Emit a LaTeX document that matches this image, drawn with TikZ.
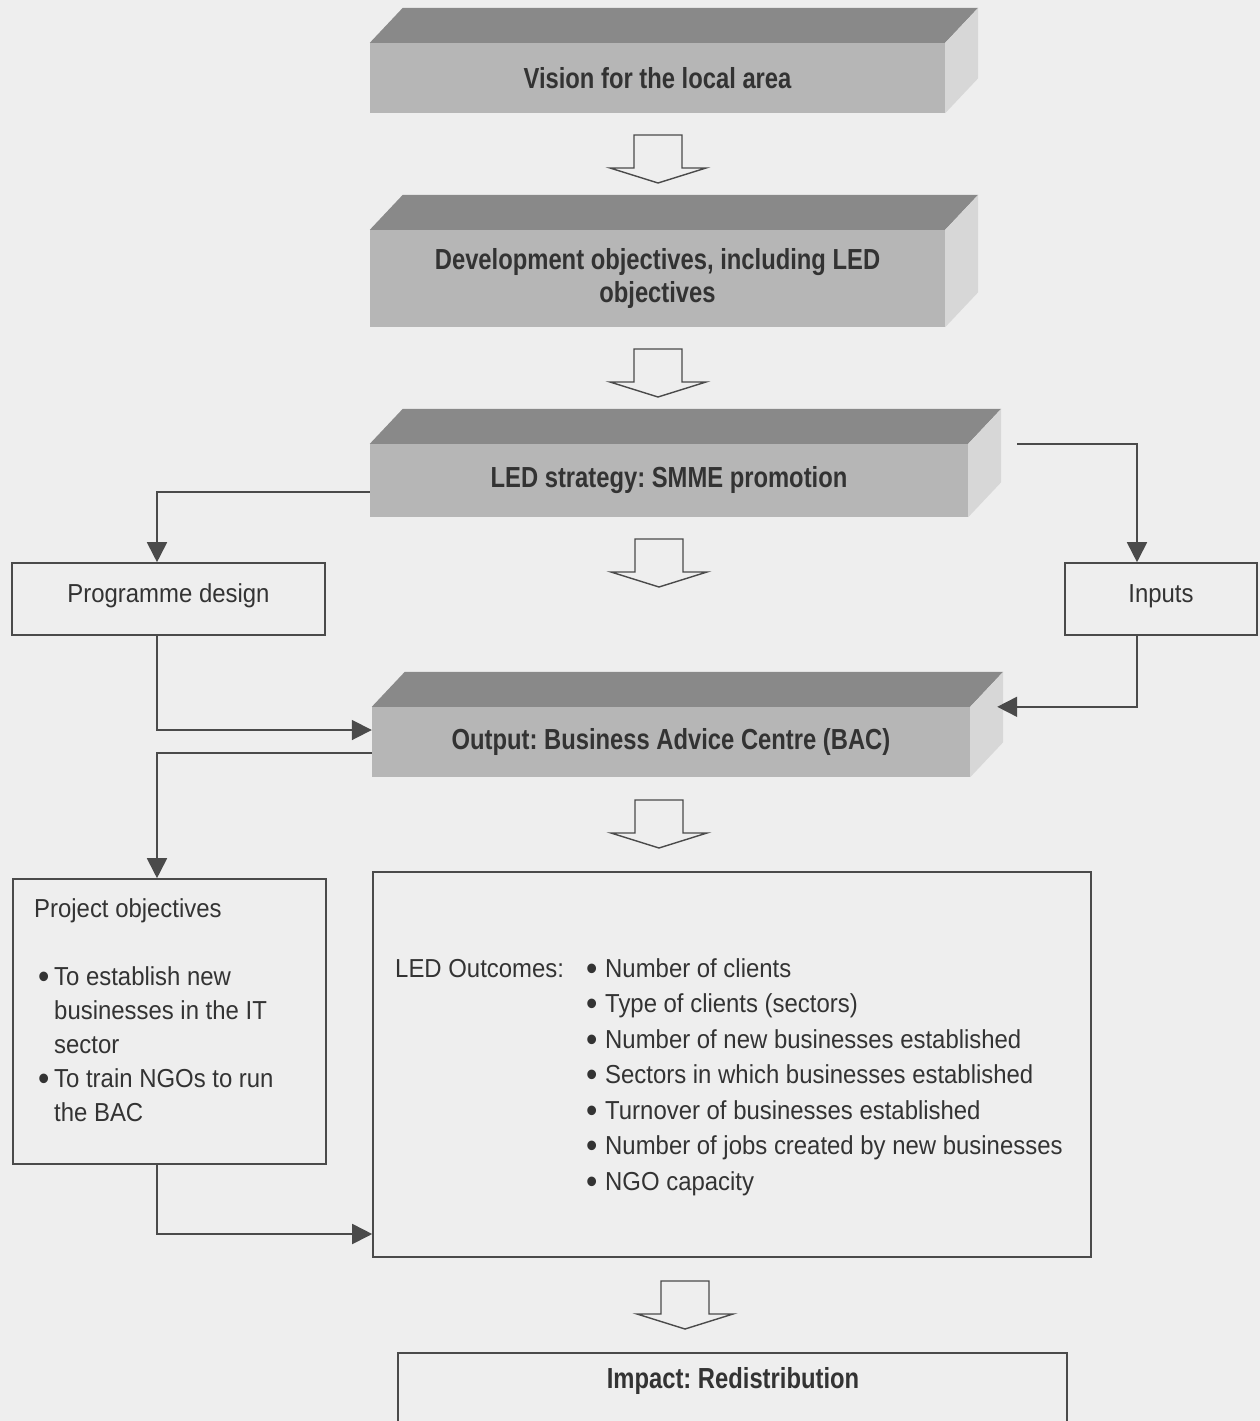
\documentclass[tikz,border=0pt]{standalone}
\usepackage{fontspec}
\setmainfont{Liberation Sans}[FakeStretch=0.92]
\newfontfamily\slabfont{Liberation Sans}[FakeStretch=0.82]
\usetikzlibrary{arrows.meta,calc}

\definecolor{bg}{HTML}{EEEEEE}
\definecolor{ink}{HTML}{333333}
\definecolor{edge}{HTML}{4A4A4A}
\definecolor{slabtop}{HTML}{898989}
\definecolor{slabfront}{HTML}{B6B6B6}
\definecolor{slabside}{HTML}{D7D7D7}

\newcommand{\dotmark}{\raisebox{-3pt}{\scalebox{1.35}{\textbullet}}}

\tikzset{
  slab/.style={fill=slabfront, inner sep=0pt, align=center, text=ink,
    font=\frenchspacing\slabfont\bfseries\fontsize{29}{33}\selectfont},
  plainbox/.style={draw=edge, line width=1.6pt, text=ink,
    font=\fontsize{26}{34}\selectfont},
  bodytext/.style={inner sep=0pt, text=ink, align=left,
    font=\fontsize{26}{34}\selectfont},
  link/.style={draw=edge, line width=1.8pt, -{Triangle[width=20pt,length=20pt]}},
  hollowarrow/.pic={
    \draw[draw=edge, line width=1.4pt, fill=bg, line join=miter]
      (-24,0) -- (24,0) -- (24,33) -- (48,33) -- (0,48) -- (-48,33) -- (-24,33) -- cycle;
  }
}

% 3-D slab: front face is the node, top and side faces are drawn beside it
\newcommand{\ledslab}[5]{% name, centre x, centre y, width, height; text in \slabtext
  \node[slab, minimum width=#4, minimum height=#5] (#1) at (#2,#3) {\slabtext};
  \fill[slabtop] (#1.north west) -- (#1.north east) -- ++(33,-35)
    -- ($(#1.north west)+(33,-35)$) -- cycle;
  \fill[slabside] (#1.north east) -- ++(33,-35)
    -- ($(#1.south east)+(33,-35)$) -- (#1.south east) -- cycle;
}

\begin{document}
\begin{tikzpicture}[x=1pt,y=-1pt]
  \useasboundingbox (0,0) rectangle (1260,1421);
  \clip (0,0) rectangle (1260,1421);
  \fill[bg] (0,0) rectangle (1260,1421);

  % stacked slabs
  \def\slabtext{Vision for the local area}
  \ledslab{vision}{657.5}{78}{575pt}{70pt}
  \def\slabtext{Development objectives, including LED\\objectives}
  \ledslab{devobj}{657.5}{278.5}{575pt}{97pt}
  \def\slabtext{LED strategy: SMME promotion}
  \ledslab{strategy}{669}{480.5}{598pt}{73pt}
  \def\slabtext{Output: Business Advice Centre (BAC)}
  \ledslab{output}{671}{742}{598pt}{70pt}

  % block arrows between levels
  \pic at (658,135) {hollowarrow};
  \pic at (658,349) {hollowarrow};
  \pic at (659,539) {hollowarrow};
  \pic at (659,800) {hollowarrow};
  \pic at (685,1281) {hollowarrow};

  % side boxes
  \node[plainbox, minimum width=313pt, minimum height=72pt] (design) at (168.5,599)
    {\raisebox{-3pt}[0pt][0pt]{Programme design}};
  \node[plainbox, minimum width=192pt, minimum height=72pt] (inputs) at (1161,599)
    {\raisebox{-3pt}[0pt][0pt]{Inputs}};
  \node[plainbox, minimum width=313pt, minimum height=285pt] (projobj) at (169.5,1021.5) {};
  \node[bodytext, anchor=north west] (projtext) at (34,898) {%
    Project objectives\\[34pt]
    \hspace*{4pt}\makebox[16pt][l]{\dotmark}To establish new\\
    \hspace*{20pt}businesses in the IT\\
    \hspace*{20pt}sector\\
    \hspace*{4pt}\makebox[16pt][l]{\dotmark}To train NGOs to run\\
    \hspace*{20pt}the BAC};

  % outcomes
  \node[plainbox, minimum width=718pt, minimum height=385pt] (outcomes) at (732,1064.5) {};
  \node[bodytext, anchor=base west] (outlabel) at (395,977) {LED Outcomes:};
  \node[bodytext, anchor=north west, font=\fontsize{26}{35.5}\selectfont] (outlist) at (586,958) {%
    \makebox[19pt][l]{\dotmark}Number of clients\\
    \makebox[19pt][l]{\dotmark}Type of clients (sectors)\\
    \makebox[19pt][l]{\dotmark}Number of new businesses established\\
    \makebox[19pt][l]{\dotmark}Sectors in which businesses established\\
    \makebox[19pt][l]{\dotmark}Turnover of businesses established\\
    \makebox[19pt][l]{\dotmark}Number of jobs created by new businesses\\
    \makebox[19pt][l]{\dotmark}NGO capacity};

  % impact
  \node[plainbox, minimum width=669pt, minimum height=140pt] (impact) at (732.5,1423) {};
  \node[inner sep=0pt, text=ink, font=\frenchspacing\slabfont\bfseries\fontsize{29}{33}\selectfont]
    (impacttext) at (733,1381) {Impact: Redistribution};

  % connectors
  \draw[link] ([yshift=-11.5pt]strategy.west) -| ([xshift=-11.5pt]design.north);
  \draw[link] ([xshift=49pt]strategy.north east) -| ([xshift=-24pt]inputs.north);
  \draw[link] ([xshift=-11.5pt]design.south) |- ([yshift=12pt]output.west);
  \draw[link] ([xshift=-24pt]inputs.south) |- ([xshift=27pt]output.north east);
  \draw[link] ([yshift=-11pt]output.west) -| ([xshift=-12.5pt]projobj.north);
  \draw[link] ([xshift=-12.5pt]projobj.south) |- ([yshift=-169.5pt]outcomes.west);
\end{tikzpicture}
\end{document}
